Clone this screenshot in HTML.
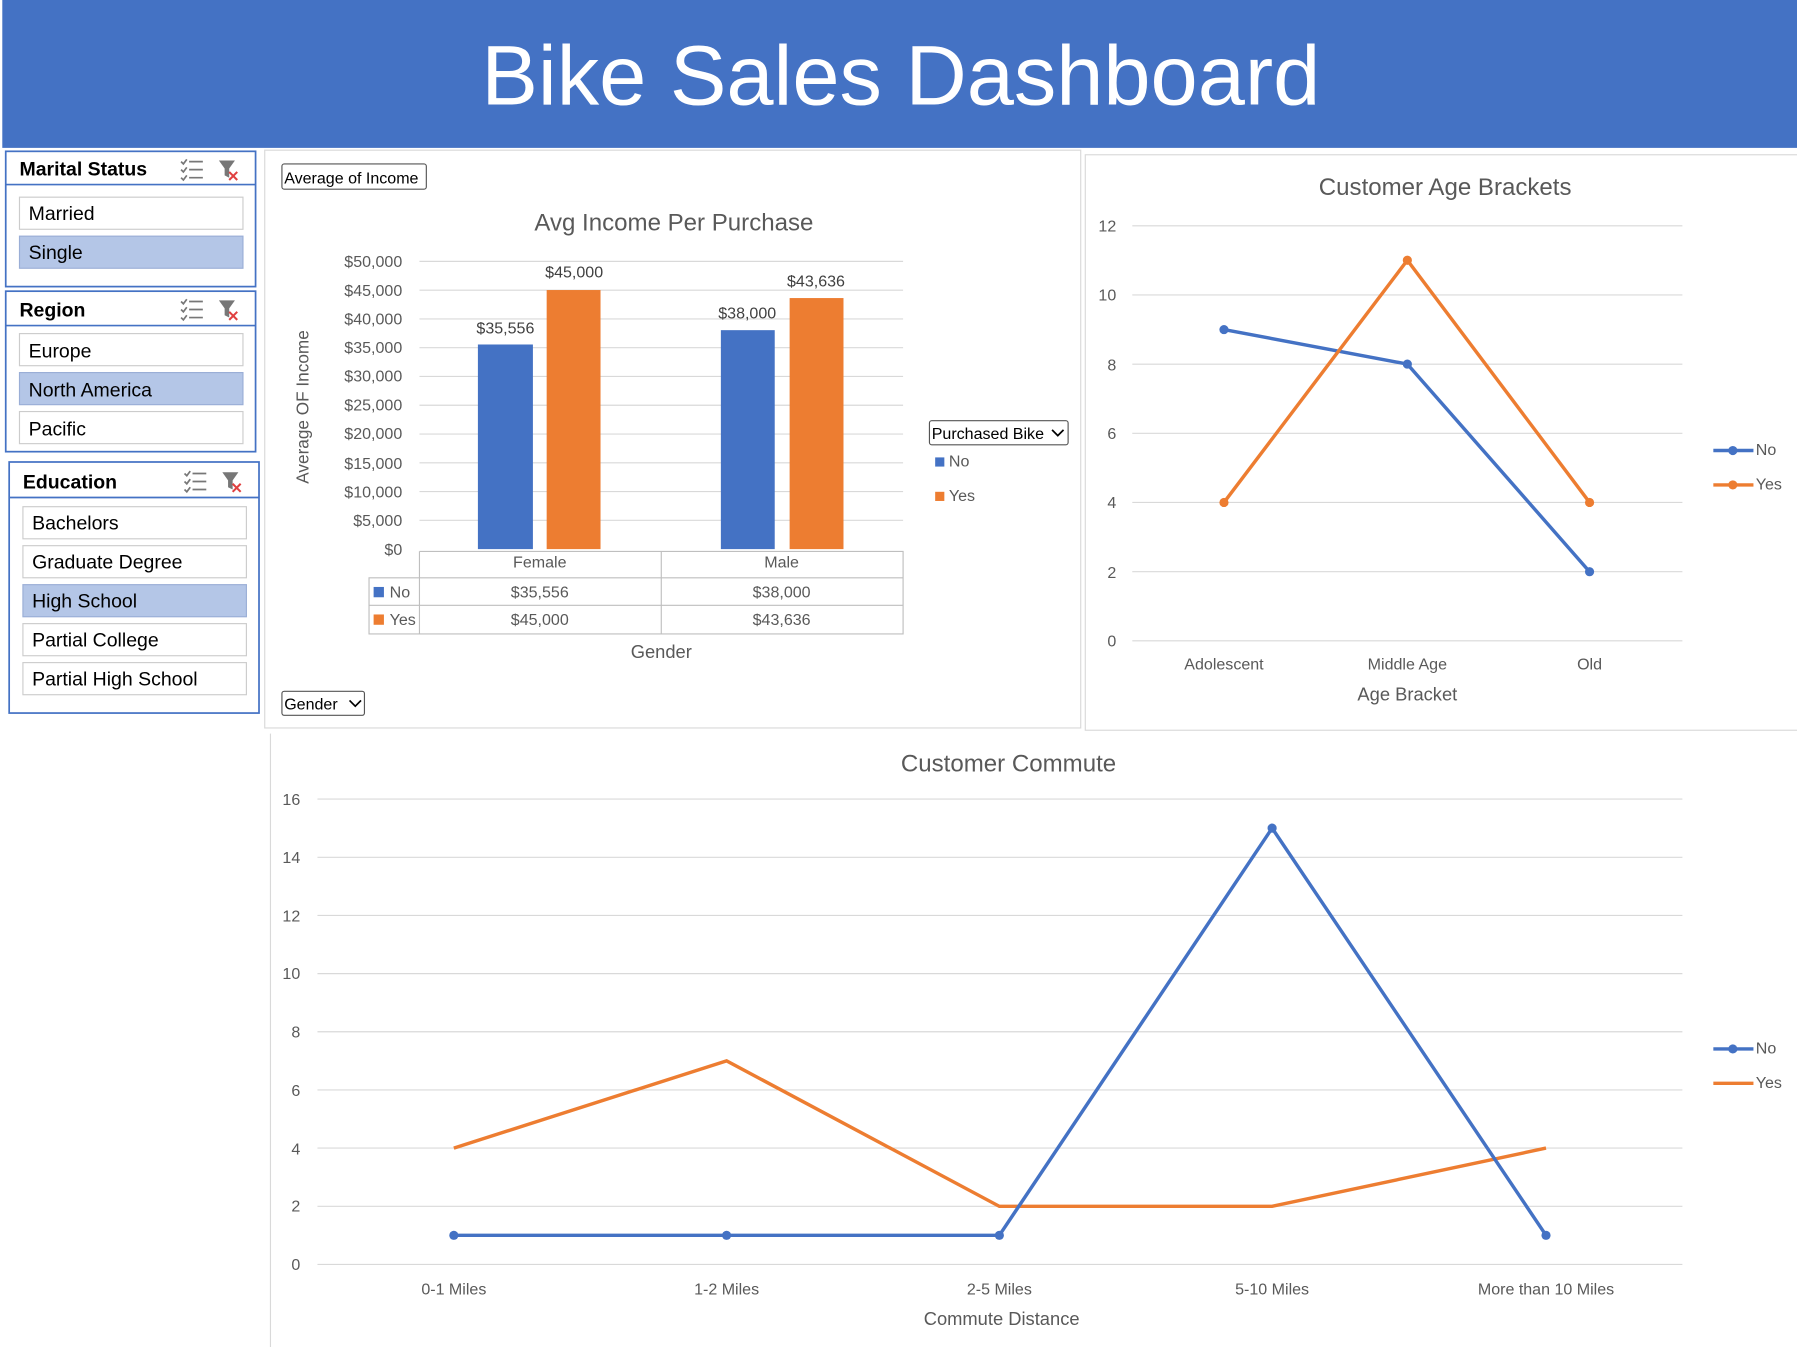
<!DOCTYPE html>
<html><head><meta charset="utf-8"><style>
html,body{margin:0;padding:0;background:#fff;overflow:hidden}
svg{display:block}
text{font-family:"Liberation Sans",sans-serif}
</style></head><body>
<svg width="1797" height="1347" viewBox="0 0 1568 1175" preserveAspectRatio="none" xmlns="http://www.w3.org/2000/svg">
<rect x="0" y="0" width="1568" height="1175" fill="#fff"/>
<!-- header -->
<rect x="2" y="0" width="1566" height="129" fill="#4472C4"/>
<text x="786" y="91" font-size="74" fill="#fff" text-anchor="middle">Bike Sales Dashboard</text>

<!-- slicers -->
<g font-size="17" fill="#000">
<rect x="5" y="132" width="218" height="118" fill="#fff" stroke="#4472C4" stroke-width="1.5"/>
<line x1="5" y1="161" x2="223" y2="161" stroke="#4472C4" stroke-width="1.5"/>
<text x="17" y="153" font-weight="bold">Marital Status</text>
<rect x="17" y="172" width="195" height="28" fill="#fff" stroke="#ccc"/>
<text x="25" y="192">Married</text>
<rect x="17" y="206" width="195" height="28" fill="#B4C6E7" stroke="#9aaed6"/>
<text x="25" y="226">Single</text>

<rect x="5" y="254" width="218" height="140" fill="#fff" stroke="#4472C4" stroke-width="1.5"/>
<line x1="5" y1="284" x2="223" y2="284" stroke="#4472C4" stroke-width="1.5"/>
<text x="17" y="276" font-weight="bold">Region</text>
<rect x="17" y="291" width="195" height="28" fill="#fff" stroke="#ccc"/>
<text x="25" y="312">Europe</text>
<rect x="17" y="325" width="195" height="28" fill="#B4C6E7" stroke="#9aaed6"/>
<text x="25" y="346">North America</text>
<rect x="17" y="359" width="195" height="28" fill="#fff" stroke="#ccc"/>
<text x="25" y="380">Pacific</text>

<rect x="8" y="403" width="218" height="219" fill="#fff" stroke="#4472C4" stroke-width="1.5"/>
<line x1="8" y1="434" x2="226" y2="434" stroke="#4472C4" stroke-width="1.5"/>
<text x="20" y="426" font-weight="bold">Education</text>
<rect x="20" y="442" width="195" height="28" fill="#fff" stroke="#ccc"/>
<text x="28" y="462">Bachelors</text>
<rect x="20" y="476" width="195" height="28" fill="#fff" stroke="#ccc"/>
<text x="28" y="496">Graduate Degree</text>
<rect x="20" y="510" width="195" height="28" fill="#B4C6E7" stroke="#9aaed6"/>
<text x="28" y="530">High School</text>
<rect x="20" y="544" width="195" height="28" fill="#fff" stroke="#ccc"/>
<text x="28" y="564">Partial College</text>
<rect x="20" y="578" width="195" height="28" fill="#fff" stroke="#ccc"/>
<text x="28" y="598">Partial High School</text>
</g>
<!-- slicer icons -->
<g stroke="#777" stroke-width="1.5" fill="none">
<path d="M165 141h12M165 148h12M165 155h12M158 141l2 2 3-4M158 148l2 2 3-4M158 155l2 2 3-4"/>
<path d="M165 263h12M165 270h12M165 277h12M158 263l2 2 3-4M158 270l2 2 3-4M158 277l2 2 3-4"/>
<path d="M168 413h12M168 420h12M168 427h12M161 413l2 2 3-4M161 420l2 2 3-4M161 427l2 2 3-4"/>
</g>
<g>
<path d="M191 140h14l-5 7v8l-4-2v-6z" fill="#777"/><path d="M200 150l7 7M207 150l-7 7" stroke="#e04040" stroke-width="1.8"/>
<path d="M191 262h14l-5 7v8l-4-2v-6z" fill="#777"/><path d="M200 272l7 7M207 272l-7 7" stroke="#e04040" stroke-width="1.8"/>
<path d="M194 412h14l-5 7v8l-4-2v-6z" fill="#777"/><path d="M203 422l7 7M210 422l-7 7" stroke="#e04040" stroke-width="1.8"/>
</g>

<!-- bar chart panel -->
<rect x="231" y="131" width="712" height="504" fill="#fff" stroke="#d9d9d9"/>
<rect x="246" y="143" width="126" height="22" fill="#fff" stroke="#555" rx="2"/>
<text x="248" y="160" font-size="14">Average of Income</text>
<text x="588" y="201" font-size="21" fill="#595959" text-anchor="middle">Avg Income Per Purchase</text>
<g stroke="#d9d9d9" stroke-width="1">
<line x1="366" y1="228" x2="788" y2="228"/><line x1="366" y1="253.1" x2="788" y2="253.1"/>
<line x1="366" y1="278.2" x2="788" y2="278.2"/><line x1="366" y1="303.3" x2="788" y2="303.3"/>
<line x1="366" y1="328.4" x2="788" y2="328.4"/><line x1="366" y1="353.5" x2="788" y2="353.5"/>
<line x1="366" y1="378.6" x2="788" y2="378.6"/><line x1="366" y1="403.7" x2="788" y2="403.7"/>
<line x1="366" y1="428.8" x2="788" y2="428.8"/><line x1="366" y1="453.9" x2="788" y2="453.9"/>
</g>
<g font-size="14" fill="#595959" text-anchor="end">
<text x="351" y="233">$50,000</text><text x="351" y="258">$45,000</text><text x="351" y="283">$40,000</text>
<text x="351" y="308">$35,000</text><text x="351" y="333">$30,000</text><text x="351" y="358">$25,000</text>
<text x="351" y="383">$20,000</text><text x="351" y="409">$15,000</text><text x="351" y="434">$10,000</text>
<text x="351" y="459">$5,000</text><text x="351" y="484">$0</text>
</g>
<text transform="translate(269,355) rotate(-90)" font-size="15" fill="#595959" text-anchor="middle">Average OF Income</text>
<rect x="417" y="300.5" width="48" height="178.5" fill="#4472C4"/>
<rect x="477" y="253" width="47" height="226" fill="#ED7D31"/>
<rect x="629" y="288" width="47" height="191" fill="#4472C4"/>
<rect x="689" y="260" width="47" height="219" fill="#ED7D31"/>
<g font-size="14" fill="#404040" text-anchor="middle">
<text x="441" y="291">$35,556</text><text x="501" y="242">$45,000</text>
<text x="652" y="278">$38,000</text><text x="712" y="250">$43,636</text>
</g>
<!-- data table -->
<g stroke="#bfbfbf" fill="none">
<path d="M366 481H788V553H322V504H788M322 528H788M366 481V553M577 481V553M788 481V553"/>
</g>
<g font-size="14" fill="#595959" text-anchor="middle">
<text x="471" y="495">Female</text><text x="682" y="495">Male</text>
<text x="471" y="521">$35,556</text><text x="682" y="521">$38,000</text>
<text x="471" y="545">$45,000</text><text x="682" y="545">$43,636</text>
</g>
<rect x="326" y="512" width="9" height="9" fill="#4472C4"/><text x="340" y="521" font-size="14" fill="#595959">No</text>
<rect x="326" y="536" width="9" height="9" fill="#ED7D31"/><text x="340" y="545" font-size="14" fill="#595959">Yes</text>
<text x="577" y="574" font-size="16" fill="#595959" text-anchor="middle">Gender</text>
<rect x="811" y="367" width="121" height="21" fill="#fff" stroke="#555" rx="2"/>
<text x="813" y="383" font-size="14">Purchased Bike</text>
<path d="M918 375l5 5 5-5" stroke="#000" stroke-width="1.5" fill="none"/>
<rect x="816" y="399" width="8" height="8" fill="#4472C4"/><text x="828" y="407" font-size="14" fill="#595959">No</text>
<rect x="816" y="429" width="8" height="8" fill="#ED7D31"/><text x="828" y="437" font-size="14" fill="#595959">Yes</text>
<rect x="246" y="603" width="72" height="21" fill="#fff" stroke="#555" rx="2"/>
<text x="248" y="619" font-size="14">Gender</text>
<path d="M305 611l5 5 5-5" stroke="#000" stroke-width="1.5" fill="none"/>

<!-- age chart -->
<rect x="947" y="135" width="625" height="502" fill="#fff" stroke="#d9d9d9"/>
<text x="1261" y="170" font-size="21" fill="#595959" text-anchor="middle">Customer Age Brackets</text>
<g stroke="#d9d9d9">
<line x1="988" y1="197" x2="1468" y2="197"/><line x1="988" y1="257.3" x2="1468" y2="257.3"/>
<line x1="988" y1="317.7" x2="1468" y2="317.7"/><line x1="988" y1="378" x2="1468" y2="378"/>
<line x1="988" y1="438.3" x2="1468" y2="438.3"/><line x1="988" y1="498.7" x2="1468" y2="498.7"/>
<line x1="988" y1="559" x2="1468" y2="559"/>
</g>
<g font-size="14" fill="#595959" text-anchor="end">
<text x="974" y="202">12</text><text x="974" y="262">10</text><text x="974" y="323">8</text>
<text x="974" y="383">6</text><text x="974" y="443">4</text><text x="974" y="504">2</text><text x="974" y="564">0</text>
</g>
<g font-size="14" fill="#595959" text-anchor="middle">
<text x="1068" y="584">Adolescent</text><text x="1228" y="584">Middle Age</text><text x="1387" y="584">Old</text>
</g>
<text x="1228" y="611" font-size="16" fill="#595959" text-anchor="middle">Age Bracket</text>
<polyline points="1068,287.5 1228,317.6 1387,498.7" fill="none" stroke="#4472C4" stroke-width="3"/>
<polyline points="1068,438.3 1228,227 1387,438.3" fill="none" stroke="#ED7D31" stroke-width="3"/>
<g fill="#4472C4"><circle cx="1068" cy="287.5" r="4"/><circle cx="1228" cy="317.6" r="4"/><circle cx="1387" cy="498.7" r="4"/></g>
<g fill="#ED7D31"><circle cx="1068" cy="438.3" r="4"/><circle cx="1228" cy="227" r="4"/><circle cx="1387" cy="438.3" r="4"/></g>
<line x1="1495" y1="393" x2="1530" y2="393" stroke="#4472C4" stroke-width="3"/><circle cx="1512" cy="393" r="4" fill="#4472C4"/>
<text x="1532" y="397" font-size="14" fill="#595959">No</text>
<line x1="1495" y1="423" x2="1530" y2="423" stroke="#ED7D31" stroke-width="3"/><circle cx="1512" cy="423" r="4" fill="#ED7D31"/>
<text x="1532" y="427" font-size="14" fill="#595959">Yes</text>

<!-- commute chart -->
<line x1="236" y1="640" x2="236" y2="1175" stroke="#d9d9d9"/>
<text x="880" y="673" font-size="21" fill="#595959" text-anchor="middle">Customer Commute</text>
<g stroke="#d9d9d9">
<line x1="277" y1="697" x2="1468" y2="697"/><line x1="277" y1="747.8" x2="1468" y2="747.8"/>
<line x1="277" y1="798.5" x2="1468" y2="798.5"/><line x1="277" y1="849.3" x2="1468" y2="849.3"/>
<line x1="277" y1="900" x2="1468" y2="900"/><line x1="277" y1="950.8" x2="1468" y2="950.8"/>
<line x1="277" y1="1001.5" x2="1468" y2="1001.5"/><line x1="277" y1="1052.3" x2="1468" y2="1052.3"/>
<line x1="277" y1="1103" x2="1468" y2="1103"/>
</g>
<g font-size="14" fill="#595959" text-anchor="end">
<text x="262" y="702">16</text><text x="262" y="753">14</text><text x="262" y="804">12</text>
<text x="262" y="854">10</text><text x="262" y="905">8</text><text x="262" y="956">6</text>
<text x="262" y="1007">4</text><text x="262" y="1057">2</text><text x="262" y="1108">0</text>
</g>
<g font-size="14" fill="#595959" text-anchor="middle">
<text x="396" y="1129">0-1 Miles</text><text x="634" y="1129">1-2 Miles</text><text x="872" y="1129">2-5 Miles</text>
<text x="1110" y="1129">5-10 Miles</text><text x="1349" y="1129">More than 10 Miles</text>
</g>
<text x="874" y="1156" font-size="16" fill="#595959" text-anchor="middle">Commute Distance</text>
<polyline points="396,1001.5 634,925.4 872,1052.3 1110,1052.3 1349,1001.5" fill="none" stroke="#ED7D31" stroke-width="3"/>
<polyline points="396,1077.6 634,1077.6 872,1077.6 1110,722.4 1349,1077.6" fill="none" stroke="#4472C4" stroke-width="3"/>
<g fill="#4472C4"><circle cx="396" cy="1077.6" r="4"/><circle cx="634" cy="1077.6" r="4"/><circle cx="872" cy="1077.6" r="4"/><circle cx="1110" cy="722.4" r="4"/><circle cx="1349" cy="1077.6" r="4"/></g>
<line x1="1495" y1="915" x2="1530" y2="915" stroke="#4472C4" stroke-width="3"/><circle cx="1512" cy="915" r="4" fill="#4472C4"/>
<text x="1532" y="919" font-size="14" fill="#595959">No</text>
<line x1="1495" y1="945" x2="1530" y2="945" stroke="#ED7D31" stroke-width="3"/>
<text x="1532" y="949" font-size="14" fill="#595959">Yes</text>
</svg>
</body></html>
